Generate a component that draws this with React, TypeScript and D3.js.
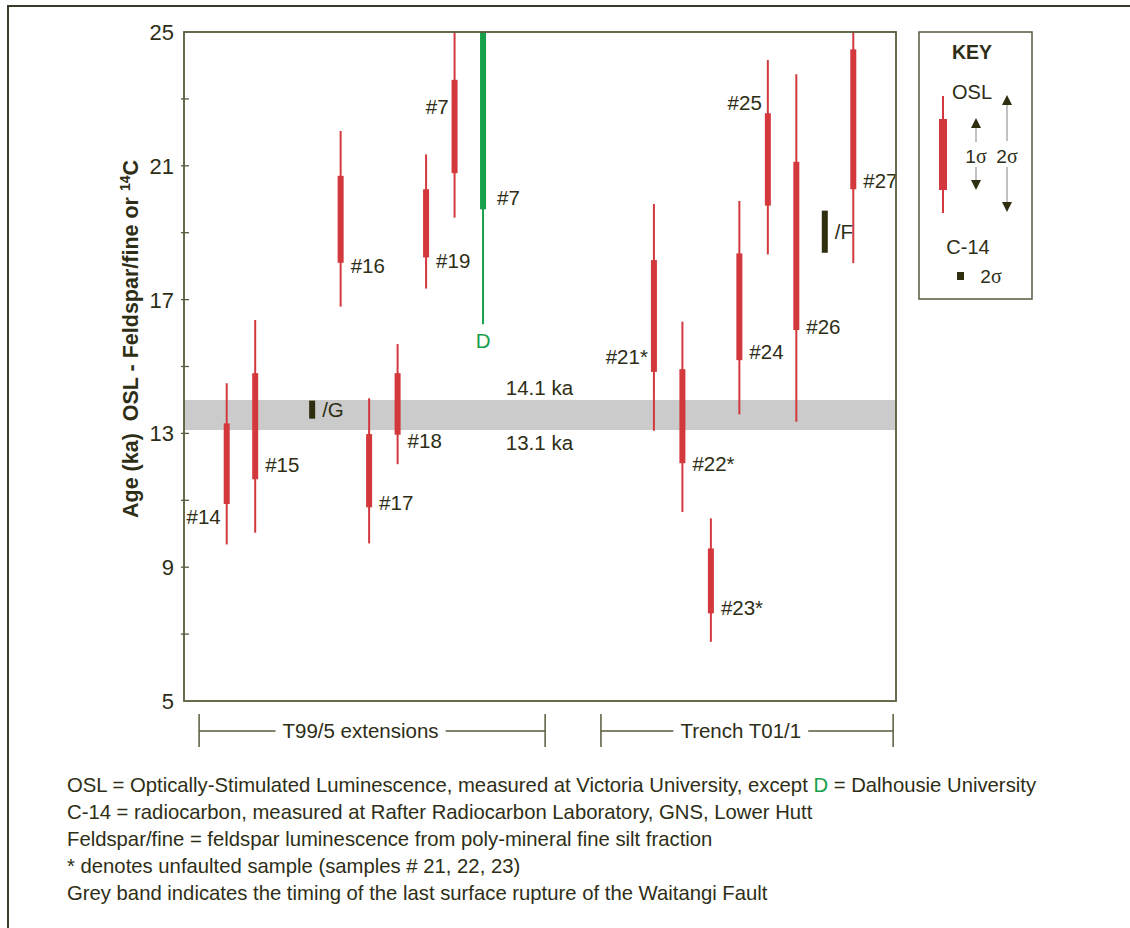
import React, { useEffect, useRef } from "react";
import * as d3 from "d3";

const W = 1130;
const H = 928;
const FONT = "'Liberation Sans', Arial, Helvetica, sans-serif";
const SERIF = "'Liberation Serif', 'Times New Roman', serif";
const TEXT = "#2e2e16";
const AXIS = "#5a5a3c";
const FRAME = "#3a3a28";
const RED = "#d3383d";
const GREEN = "#16a04a";
const DARK = "#2f2f0f";
const BAND = "#cbcbcb";

// ---- data ----
const yTickLabels = [5, 9, 13, 17, 21, 25];
const yTickMarks = [7, 9, 11, 13, 15, 17, 19, 21, 23];

const samples = ["#14", "#15", "#16", "#17", "#18", "#19", "#7", "#7", "#21*", "#22*", "#23*", "#24", "#25", "#26", "#27"];
const sampleSlot = [0, 1, 4, 5, 6, 7, 8, 9, 15, 16, 17, 18, 19, 20, 22];
const sampleLab = ["V", "V", "V", "V", "V", "V", "V", "D", "V", "V", "V", "V", "V", "V", "V"];
const low2s = [9.68, 10.03, 16.79, 9.71, 12.08, 17.33, 19.45, 16.26, 13.08, 10.65, 6.77, 13.57, 18.35, 13.35, 18.09];
const low1s = [10.89, 11.63, 18.1, 10.79, 12.96, 18.26, 20.78, 19.7, 14.84, 12.11, 7.62, 15.19, 19.81, 16.09, 20.3];
const high1s = [13.3, 14.8, 20.7, 12.98, 14.8, 20.3, 23.57, 25.5, 18.18, 14.92, 9.56, 18.38, 22.57, 21.12, 24.48];
const high2s = [14.5, 16.39, 22.04, 14.05, 15.67, 21.34, 25.5, 25.5, 19.86, 16.34, 10.46, 19.95, 24.16, 23.74, 25.5];
const labelSide = ["L", "R", "R", "R", "R", "R", "L", "R", "L", "R", "R", "R", "L", "R", "R"];
const labelAt = [10.5, 12.06, 18.01, 10.92, 12.77, 18.18, 22.76, 20.04, 15.31, 12.11, 7.78, 15.43, 22.88, 16.18, 20.55];

const c14Labels = ["/G", "/F"];
const c14Slot = [3, 21];
const c14Low = [13.44, 18.4];
const c14High = [13.98, 19.66];

const bandLow = 13.1;
const bandHigh = 14.0;
const bandLabels = ["14.1 ka", "13.1 ka"];

const groups = ["T99/5 extensions", "Trench T01/1"];
const groupFrom = [-0.97, 13.14];
const groupTo = [11.18, 23.4];
const groupLabelAt = [4.7, 18.05];

const footerLines = [
  ["OSL = Optically-Stimulated Luminescence, measured at Victoria University, except ", "D", " = Dalhousie University"],
  ["C-14 = radiocarbon, measured at Rafter Radiocarbon Laboratory, GNS, Lower Hutt"],
  ["Feldspar/fine = feldspar luminescence from poly-mineral fine silt fraction"],
  ["* denotes unfaulted sample (samples # 21, 22, 23)"],
  ["Grey band indicates the timing of the last surface rupture of the Waitangi Fault"],
];

export default function App() {
  const ref = useRef<SVGSVGElement>(null);

  useEffect(() => {
    const svg = d3.select(ref.current);
    svg.selectAll("*").remove();

    const x = d3.scaleLinear().domain([-1.5, 23.5]).range([184, 896]);
    const y = d3.scaleLinear().domain([5, 25]).range([701, 32]);
    const [px0, px1] = x.range();
    const [py1, py0] = y.range();
    const LBL = 20.5;

    svg.append("defs").append("clipPath").attr("id", "plotclip")
      .append("rect").attr("x", px0).attr("y", py0).attr("width", px1 - px0).attr("height", py1 - py0);

    // outer frame
    svg.append("line").attr("x1", 7).attr("x2", W).attr("y1", 6).attr("y2", 6)
      .attr("stroke", FRAME).attr("stroke-width", 2);
    svg.append("line").attr("x1", 8).attr("x2", 8).attr("y1", 5).attr("y2", H)
      .attr("stroke", FRAME).attr("stroke-width", 2);

    // grey band
    svg.append("rect").attr("x", px0).attr("width", px1 - px0)
      .attr("y", y(bandHigh)).attr("height", y(bandLow) - y(bandHigh)).attr("fill", BAND);

    // band labels
    const bx = x(10.98);
    svg.append("text").attr("x", bx).attr("y", y(bandHigh) - 5).attr("text-anchor", "middle")
      .attr("font-size", LBL).attr("fill", TEXT).attr("font-family", FONT).text(bandLabels[0]);
    svg.append("text").attr("x", bx).attr("y", y(bandLow) + 20).attr("text-anchor", "middle")
      .attr("font-size", LBL).attr("fill", TEXT).attr("font-family", FONT).text(bandLabels[1]);

    // ticks
    svg.selectAll(".tk").data(yTickMarks).join("line")
      .attr("x1", px0 - 3).attr("x2", px0 + 5)
      .attr("y1", (d) => y(d)).attr("y2", (d) => y(d))
      .attr("stroke", AXIS).attr("stroke-width", 1.3);
    svg.selectAll(".tl").data(yTickLabels).join("text")
      .attr("x", 174).attr("y", (d) => y(d)).attr("dy", "0.36em")
      .attr("text-anchor", "end").attr("font-size", 22).attr("fill", TEXT).attr("font-family", FONT)
      .text((d) => String(d));

    // y axis title
    const yt = svg.append("text").attr("transform", `translate(138,518) rotate(-90)`)
      .style("white-space", "pre")
      .attr("font-size", 21.5).attr("font-weight", "bold").attr("fill", TEXT).attr("font-family", FONT);
    yt.append("tspan").text("Age (ka)  OSL - Feldspar/fine or ");
    yt.append("tspan").attr("font-size", 14).attr("dy", -8).text("14");
    yt.append("tspan").attr("dy", 8).text("C");

    // samples
    const pg = svg.append("g").attr("clip-path", "url(#plotclip)");
    samples.forEach((s, i) => {
      const cx = x(sampleSlot[i]);
      const col = sampleLab[i] === "D" ? GREEN : RED;
      pg.append("line").attr("x1", cx).attr("x2", cx)
        .attr("y1", y(high2s[i])).attr("y2", y(low2s[i]))
        .attr("stroke", col).attr("stroke-width", 2);
      pg.append("rect").attr("x", cx - 3).attr("width", 6)
        .attr("y", y(high1s[i])).attr("height", y(low1s[i]) - y(high1s[i]))
        .attr("fill", col);
      const left = labelSide[i] === "L";
      svg.append("text")
        .attr("x", left ? cx - 6 : cx + (sampleLab[i] === "D" ? 14 : 10))
        .attr("y", y(labelAt[i])).attr("dy", "0.36em")
        .attr("text-anchor", left ? "end" : "start")
        .attr("font-size", LBL).attr("fill", TEXT).attr("font-family", FONT)
        .text(s);
      if (sampleLab[i] === "D") {
        svg.append("text").attr("x", cx).attr("y", y(low2s[i]) + 16).attr("dy", "0.36em")
          .attr("text-anchor", "middle").attr("font-size", LBL).attr("fill", GREEN).attr("font-family", FONT)
          .text("D");
      }
    });

    // C-14 samples
    c14Labels.forEach((s, i) => {
      const cx = x(c14Slot[i]);
      pg.append("rect").attr("x", cx - 3).attr("width", 6)
        .attr("y", y(c14High[i])).attr("height", y(c14Low[i]) - y(c14High[i]))
        .attr("fill", DARK);
      svg.append("text").attr("x", cx + 10).attr("y", y((c14High[i] + c14Low[i]) / 2)).attr("dy", "0.36em")
        .attr("font-size", LBL).attr("fill", TEXT).attr("font-family", FONT).text(s);
    });

    // plot frame
    svg.append("rect").attr("x", px0).attr("y", py0).attr("width", px1 - px0).attr("height", py1 - py0)
      .attr("fill", "none").attr("stroke", AXIS).attr("stroke-width", 1.8);

    // group brackets
    const gy = 731;
    groups.forEach((gname, i) => {
      const xa = x(groupFrom[i]);
      const xb = x(groupTo[i]);
      const t = svg.append("text").attr("x", x(groupLabelAt[i])).attr("y", gy).attr("dy", "0.36em")
        .attr("text-anchor", "middle").attr("font-size", LBL).attr("fill", TEXT).attr("font-family", FONT)
        .text(gname);
      const bb = (t.node() as SVGTextElement).getBBox();
      const gap = 7;
      [[xa, bb.x - gap], [bb.x + bb.width + gap, xb]].forEach(([a, b]) => {
        svg.append("line").attr("x1", a).attr("x2", b).attr("y1", gy).attr("y2", gy)
          .attr("stroke", AXIS).attr("stroke-width", 1.3);
      });
      [xa, xb].forEach((xx) => {
        svg.append("line").attr("x1", xx).attr("x2", xx).attr("y1", gy - 17).attr("y2", gy + 16)
          .attr("stroke", AXIS).attr("stroke-width", 1.5);
      });
    });

    // key
    const kg = svg.append("g");
    kg.append("rect").attr("x", 919).attr("y", 32).attr("width", 113).attr("height", 267)
      .attr("fill", "none").attr("stroke", AXIS).attr("stroke-width", 1.5);
    kg.append("text").attr("x", 972).attr("y", 59).attr("text-anchor", "middle")
      .attr("font-size", 19.5).attr("font-weight", "bold").attr("fill", TEXT).attr("font-family", FONT).text("KEY");
    kg.append("text").attr("x", 972).attr("y", 99).attr("text-anchor", "middle")
      .attr("font-size", 20).attr("fill", TEXT).attr("font-family", FONT).text("OSL");
    kg.append("line").attr("x1", 943).attr("x2", 943).attr("y1", 96).attr("y2", 213)
      .attr("stroke", RED).attr("stroke-width", 2);
    kg.append("rect").attr("x", 939).attr("y", 119).attr("width", 8).attr("height", 71).attr("fill", RED);
    const arrow = (ax: number, top: number, bot: number, tipTop: number, tipBot: number) => {
      kg.append("line").attr("x1", ax).attr("x2", ax).attr("y1", tipTop + 9).attr("y2", top)
        .attr("stroke", "#a0a0a0").attr("stroke-width", 1.3);
      kg.append("line").attr("x1", ax).attr("x2", ax).attr("y1", bot).attr("y2", tipBot - 9)
        .attr("stroke", "#a0a0a0").attr("stroke-width", 1.3);
      kg.append("path").attr("d", `M${ax},${tipTop} L${ax - 5},${tipTop + 10} L${ax + 5},${tipTop + 10} Z`).attr("fill", DARK);
      kg.append("path").attr("d", `M${ax},${tipBot} L${ax - 5},${tipBot - 10} L${ax + 5},${tipBot - 10} Z`).attr("fill", DARK);
    };
    arrow(976, 142, 167, 118, 190);
    arrow(1007, 141, 167, 95, 212);
    const sig = (sx: number, sy: number, n: string) => {
      const t = kg.append("text").attr("x", sx).attr("y", sy).attr("dy", "0.36em").attr("text-anchor", "middle")
        .attr("font-size", 19).attr("fill", TEXT).attr("font-family", FONT);
      t.append("tspan").text(n);
      t.append("tspan").attr("font-family", SERIF).attr("font-size", 20).text("σ");
    };
    sig(976, 156, "1");
    sig(1007, 156, "2");
    kg.append("text").attr("x", 968).attr("y", 247).attr("dy", "0.36em").attr("text-anchor", "middle")
      .attr("font-size", 20).attr("fill", TEXT).attr("font-family", FONT).text("C-14");
    kg.append("rect").attr("x", 957).attr("y", 272).attr("width", 7).attr("height", 8).attr("fill", DARK);
    sig(991, 276, "2");

    // footer
    footerLines.forEach((parts, i) => {
      const t = svg.append("text").attr("x", 67).attr("y", 792 + i * 27)
        .attr("font-size", 20.3).attr("fill", TEXT).attr("font-family", FONT);
      parts.forEach((p) => {
        t.append("tspan").attr("fill", p === "D" ? GREEN : TEXT).text(p);
      });
    });
  }, []);

  return (
    <svg
      ref={ref}
      width={W}
      height={H}
      style={{ position: "absolute", left: 0, top: 0, background: "#ffffff", fontFamily: FONT }}
    />
  );
}
